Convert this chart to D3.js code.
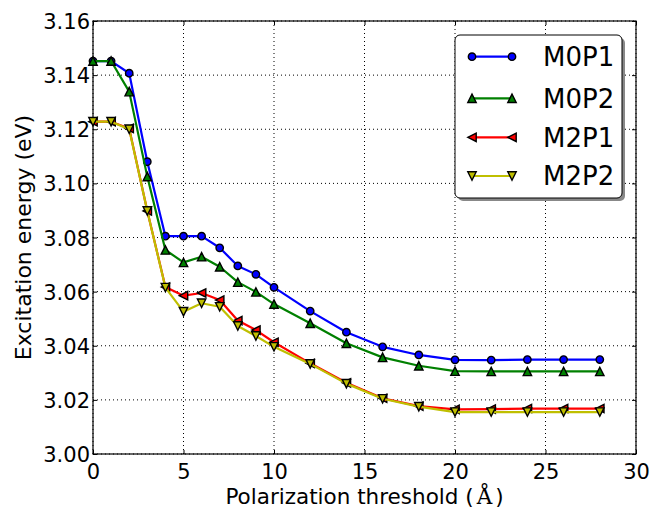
<!DOCTYPE html>
<html><head><meta charset="utf-8">
<script src="https://cdn.jsdelivr.net/npm/d3@7"></script>
<style>body{margin:0;background:#fff}text{font-family:"DejaVu Sans",sans-serif;fill:#000}</style>
</head><body><svg id="c" width="654" height="509"></svg>
<script>
const xs = [0,1,2,3,4,5,6,7,8,9,10,12,14,16,18,20,22,24,26,28];
const M0P1 = [3.1452,3.1452,3.1407,3.1080,3.0805,3.0805,3.0805,3.0762,3.0695,3.0664,3.0616,3.0528,3.0450,3.0396,3.0366,3.0348,3.0347,3.0349,3.0349,3.0349];
const M0P2 = [3.1452,3.1452,3.1339,3.1025,3.0754,3.0708,3.0729,3.0692,3.0635,3.0599,3.0554,3.0483,3.0409,3.0357,3.0326,3.0306,3.0305,3.0305,3.0305,3.0305];
const M2P1 = [3.1228,3.1228,3.1203,3.0898,3.0617,3.0585,3.0595,3.0569,3.0493,3.0458,3.0413,3.0335,3.0263,3.0206,3.0177,3.0165,3.0166,3.0168,3.0168,3.0168];
const M2P2 = [3.1228,3.1228,3.1200,3.0898,3.0615,3.0526,3.0557,3.0544,3.0473,3.0436,3.0396,3.0333,3.0260,3.0204,3.0175,3.0155,3.0155,3.0155,3.0155,3.0155];
const seriesNames = ["M0P1","M0P2","M2P1","M2P2"];
const xTicks = [0,5,10,15,20,25,30];
const yTicks = [3.00,3.02,3.04,3.06,3.08,3.10,3.12,3.14,3.16];
const xLabel = "Polarization threshold (";
const yLabel = "Excitation energy (eV)";

const seriesData = [M0P1,M0P2,M2P1,M2P2];
const colors = ["#0000ff","#008000","#ff0000","#bfbf00"];
const shapes = ["circle","up","left","down"];

const svg = d3.select("#c");
const L=93,R=636,T=21,B=454;
const x = d3.scaleLinear().domain([0,30]).range([L,R]);
const y = d3.scaleLinear().domain([3.00,3.16]).range([B,T]);

// grid
const g = svg.append("g");
xTicks.forEach(t=>{ g.append("line").attr("x1",x(t)).attr("x2",x(t)).attr("y1",T).attr("y2",B)
  .attr("stroke","#000").attr("stroke-width",1).attr("stroke-dasharray","1,3"); });
yTicks.forEach(t=>{ g.append("line").attr("x1",L).attr("x2",R).attr("y1",y(t)).attr("y2",y(t))
  .attr("stroke","#000").attr("stroke-width",1).attr("stroke-dasharray","1,3"); });

// axes
const fmtY = d3.format(".2f");
const ax = svg.append("g").attr("transform",`translate(0,${B})`)
  .call(d3.axisBottom(x).tickValues(xTicks).tickSizeInner(-4).tickSizeOuter(0).tickPadding(10).tickFormat(d3.format("d")));
const ay = svg.append("g").attr("transform",`translate(${L},0)`)
  .call(d3.axisLeft(y).tickValues(yTicks).tickSizeInner(-4).tickSizeOuter(0).tickPadding(3).tickFormat(fmtY));
const axT = svg.append("g").attr("transform",`translate(0,${T})`)
  .call(d3.axisTop(x).tickValues(xTicks).tickSizeInner(-4).tickSizeOuter(0).tickFormat(""));
const ayR = svg.append("g").attr("transform",`translate(${R},0)`)
  .call(d3.axisRight(y).tickValues(yTicks).tickSizeInner(-4).tickSizeOuter(0).tickFormat(""));
[ax,ay,axT,ayR].forEach(a=>{a.select(".domain").remove(); a.selectAll("line").attr("stroke","#000");});
ax.selectAll("text").attr("font-size",21).attr("font-family","DejaVu Sans").attr("fill","#000");
ay.selectAll("text").attr("font-size",21).attr("font-family","DejaVu Sans").attr("fill","#000").attr("dy","0.36em");
svg.append("rect").attr("x",L).attr("y",T).attr("width",R-L).attr("height",B-T)
  .attr("fill","none").attr("stroke","#000").attr("stroke-width",1.2);

function markerPath(shape){
  const r=4.2;
  if(shape==="circle") return d3.symbol().type(d3.symbolCircle).size(Math.PI*3.7*3.7)();
  if(shape==="up") return `M0,${-r}L${r},${r}L${-r},${r}Z`;
  if(shape==="down") return `M0,${r}L${r},${-r}L${-r},${-r}Z`;
  if(shape==="left") return `M${-r},0L${r},${-r}L${r},${r}Z`;
}

const line = d3.line().x(d=>x(d[0])).y(d=>y(d[1]));
const plot = svg.append("g");
seriesData.forEach((vals,i)=>{
  const pts = xs.map((v,j)=>[v,vals[j]]);
  plot.append("path").attr("d",line(pts)).attr("fill","none").attr("stroke",colors[i]).attr("stroke-width",2.2).attr("stroke-linejoin","round");
  plot.selectAll(null).data(pts).enter().append("path")
    .attr("d",markerPath(shapes[i]))
    .attr("transform",d=>`translate(${x(d[0])},${y(d[1])})`)
    .attr("fill",colors[i]).attr("stroke","#000").attr("stroke-width",1.4);
});

// labels
const xl = svg.append("text").attr("x",(L+R)/2).attr("y",504).attr("text-anchor","middle").attr("font-size",21.5);
xl.append("tspan").text(xLabel);
xl.append("tspan").attr("font-family","DejaVu Serif").attr("dx",3).text("Å");
xl.append("tspan").attr("dx",3).text(")");
svg.append("text").attr("transform",`translate(31,${(T+B)/2}) rotate(-90)`).attr("text-anchor","middle").attr("font-size",22)
  .text(yLabel);

// legend
const lg = svg.append("g");
lg.append("rect").attr("x",458).attr("y",38).attr("width",167).attr("height",163).attr("rx",5)
  .attr("fill","#888").attr("stroke","none");
lg.append("rect").attr("x",455).attr("y",35).attr("width",167).attr("height",163).attr("rx",5)
  .attr("fill","#fff").attr("stroke","#000").attr("stroke-width",1);
const rows=[56.7,98.3,137.3,176];
seriesNames.forEach((nm,i)=>{
  const yy=rows[i];
  lg.append("line").attr("x1",472).attr("x2",512).attr("y1",yy).attr("y2",yy).attr("stroke",colors[i]).attr("stroke-width",2.2);
  [472,512].forEach(xx=>lg.append("path").attr("d",markerPath(shapes[i])).attr("transform",`translate(${xx},${yy})`)
    .attr("fill",colors[i]).attr("stroke","#000").attr("stroke-width",1.4));
  lg.append("text").attr("x",543).attr("y",yy).attr("dy","0.36em").attr("font-size",26).text(nm);
});
</script></body></html>
